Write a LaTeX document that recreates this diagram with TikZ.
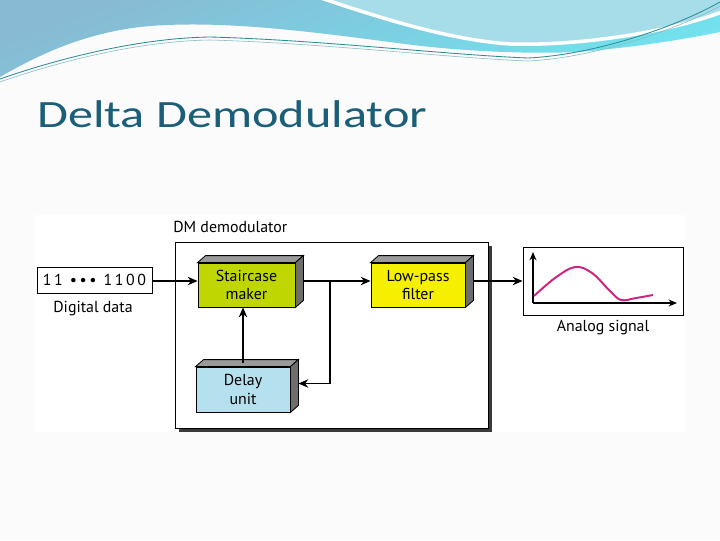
\documentclass[tikz,border=0pt]{standalone}
\usepackage{graphicx}
\usepackage{fontspec}
\setmainfont{PT Sans}
\newfontfamily\titlefont{Carlito}
\usetikzlibrary{arrows.meta}

\definecolor{titleteal}{HTML}{1A5E78}
\definecolor{stairgreen}{HTML}{BFD600}
\definecolor{lpfyellow}{HTML}{F5F000}
\definecolor{delayblue}{HTML}{B5E1EF}
\definecolor{sigmagenta}{HTML}{D0237F}
\definecolor{topface}{HTML}{9A9A9A}
\definecolor{sideface}{HTML}{6E6E6E}
\definecolor{shadowgray}{HTML}{3A3A3A}
\definecolor{wavetop}{HTML}{88BAD3}
\definecolor{wavelow}{HTML}{70E4EF}
\definecolor{wavelight}{HTML}{A6DDE8}
\definecolor{waveline}{HTML}{2E8C99}

\tikzset{
	block/.style={draw, line width=0.6pt, inner sep=0pt, align=center,
		minimum height=1.1cm, font=\fontsize{11.3}{13.2}\selectfont},
	flow/.style={-{Stealth[length=7pt,width=6pt]}, line width=1pt},
	lbl/.style={font=\fontsize{11.3}{13.2}\selectfont, inner sep=0pt},
}

% top and side faces of a block
\newcommand{\blockfaces}[1]{%
	\filldraw[fill=topface, line width=0.6pt] (#1.north west) -- ([shift={(8,-7)}]#1.north west)
		-- ([shift={(8,-7)}]#1.north east) -- (#1.north east) -- cycle;
	\filldraw[fill=sideface, line width=0.6pt] (#1.north east) -- ([shift={(8,-7)}]#1.north east)
		-- ([shift={(8,-7)}]#1.south east) -- (#1.south east) -- cycle;
}

\begin{document}
\begin{tikzpicture}[x=0.025cm, y=-0.025cm]
	\useasboundingbox (0,0) rectangle (720,540);
	\fill[white!97!gray] (0,0) rectangle (720,540);

	% waves at the top
	\shade[top color=wavetop, bottom color=wavelow, shading angle=20]
		(0,0) -- (0,77) .. controls (30,60) and (80,32) .. (150,26)
		.. controls (230,20) and (320,33) .. (413,45)
		.. controls (480,53) and (560,55) .. (600,50)
		.. controls (650,45) and (690,38) .. (720,32) -- (720,0) -- cycle;
	\filldraw[fill=wavelight, draw=white, line width=2.5pt]
		(321,-2) .. controls (380,18) and (450,40) .. (510,44)
		.. controls (570,46) and (660,35) .. (722,12) -- (722,-2) -- cycle;
	\draw[waveline, line width=0.6pt]
		(0,79) .. controls (60,58) and (140,38) .. (210,37)
		.. controls (320,40) and (450,55) .. (528,58)
		.. controls (590,55) and (670,30) .. (720,2);
	\draw[waveline!60, line width=0.4pt]
		(0,82) .. controls (60,61) and (140,41) .. (210,40)
		.. controls (320,43) and (450,58) .. (528,61)
		.. controls (590,58) and (670,33) .. (720,6);

	% title
	\node[anchor=base west, inner sep=0pt, text=titleteal,
		font=\titlefont\fontsize{27.5}{32}\selectfont] (title) at (37,127)
		{\scalebox{1.3}[1]{Delta Demodulator}};

	% diagram panel
	\fill[white] (35,215) rectangle (685,432);

	% DM demodulator box
	\fill[shadowgray] (179,246) rectangle (492,432);
	\filldraw[fill=white, line width=0.6pt] (175,242) rectangle (488,428);
	\node[lbl, anchor=west] (dmlbl) at (173,227) {DM demodulator};

	% input
	\node[draw, line width=0.6pt, minimum width=2.875cm, minimum height=0.65cm,
		inner sep=0pt, font=\fontsize{11.3}{13.2}\selectfont] (dig) at (94.5,280)
		{1\,1\ \,\textbullet\,\textbullet\,\textbullet\ \,1\,1\,0\,0};
	\node[lbl] (diglbl) at (93,309) {Digital data};

	% blocks
	\node[block, fill=stairgreen, minimum width=2.425cm] (stair) at (246.5,285) {Staircase\\maker};
	\blockfaces{stair}
	\node[block, fill=lpfyellow, minimum width=2.35cm] (lpf) at (418,285) {Low-pass\\filter};
	\blockfaces{lpf}
	\node[block, fill=delayblue, minimum width=2.35cm, minimum height=1.125cm] (delay) at (243,389.5) {Delay\\unit};
	\blockfaces{delay}

	% output
	\node[draw, line width=0.6pt, minimum width=4cm, minimum height=1.7cm, inner sep=0pt] (sig) at (603,281) {};
	\node[lbl] (siglbl) at (603,328) {Analog signal};
	\coordinate (orig) at (533,303);
	\coordinate (ytop) at (533,252);
	\coordinate (xend) at (677,303);
	\draw[-{Stealth[length=6pt,width=5pt]}, line width=0.8pt] (orig) -- (ytop);
	\draw[-{Stealth[length=6pt,width=5pt]}, line width=0.8pt] (orig) -- (xend);
	\draw[sigmagenta, line width=1.4pt] plot[smooth, tension=0.6] coordinates
		{(534,296) (555,278) (575,267) (592,273) (610,291) (621,300) (636,298) (653,295)};

	% connectors
	\coordinate (split) at (330,281);
	\draw[flow] (dig.east |- split) -- (stair.west |- split);
	\draw[line width=1pt] ([shift={(8,-4)}]stair.east) -- (split);
	\draw[flow] (split) -- (lpf.west |- split);
	\draw[flow] (split) |- ([shift={(8,-6)}]delay.east);
	\draw[flow] ([shift={(0,-4)}]delay.north) -- (delay.north |- stair.south);
	\draw[flow] ([shift={(8,-4)}]lpf.east) -- (sig.west |- split);
\end{tikzpicture}
\end{document}
